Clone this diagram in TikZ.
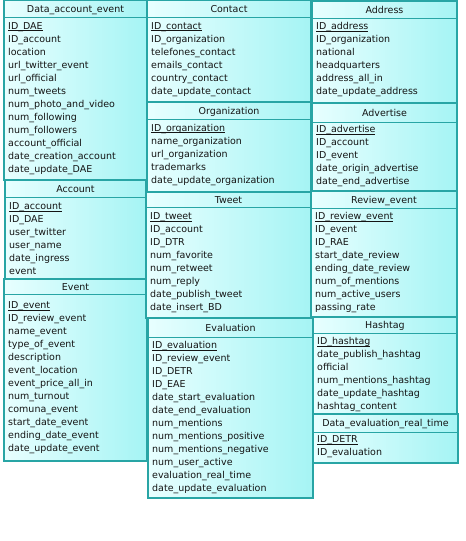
\documentclass[tikz,border=0pt]{standalone}
\usepackage{fontspec}
\setmainfont{DejaVu Sans}
\usetikzlibrary{fit}
\definecolor{entborder}{RGB}{40,165,165}
\definecolor{entleft}{RGB}{232,255,255}
\definecolor{entright}{RGB}{165,244,244}
\definecolor{enttext}{RGB}{20,20,20}
\tikzset{
  entity/.style={draw=entborder, line width=1.4pt, left color=entleft, right color=entright, inner sep=0pt, outer sep=0pt},
  entline/.style={draw=entborder, line width=1pt},
  enttitle/.style={font=\fontsize{9.5}{11}\selectfont, inner sep=0pt, text=enttext, text height=7pt, text depth=0pt},
  entrow/.style={font=\fontsize{9.5}{11}\selectfont, inner sep=0pt, anchor=west, text=enttext, text height=7pt, text depth=0pt}
}
\newcommand\entbox[9]{%
  \node[entity, fit={(#2,#3)(#4,#5)}] (#1) {};
  \draw[entline] (#2,#6) -- (#4,#6);
  \node[enttitle] (#1-title) at ({(#2+#4)/2},{(#3+#6)/2}) {#8};
  \foreach \r [count=\i] in {#9}{
    \node[entrow] (#1-\i) at ({#2+4},{#7+(\i-1)*13}) {\ifnum\i=1 \underline{\smash{\r}}\else\r\fi};
  }
}
\begin{document}
\begin{tikzpicture}[x=1pt,y=-1pt]
\useasboundingbox[fill=white] (0,0) rectangle (466,541);
\entbox{dae}{4}{0.7}{147}{180}{17}{25.7}{Data\_account\_event}{ID\_DAE, ID\_account, location, url\_twitter\_event, url\_official, num\_tweets, num\_photo\_and\_video, num\_following, num\_followers, account\_official, date\_creation\_account, date\_update\_DAE}
\entbox{account}{5}{180}{146}{279}{197}{206}{Account}{ID\_account, ID\_DAE, user\_twitter, user\_name, date\_ingress, event}
\entbox{event}{4}{279}{147}{461}{294}{305}{Event}{ID\_event, ID\_review\_event, name\_event, type\_of\_event, description, event\_location, event\_price\_all\_in, num\_turnout, comuna\_event, start\_date\_event, ending\_date\_event, date\_update\_event}
\entbox{contact}{147}{0.7}{311}{102}{17}{25.7}{Contact}{ID\_contact, ID\_organization, telefones\_contact, emails\_contact, country\_contact, date\_update\_contact}
\entbox{org}{147}{102}{311}{192}{119}{127.7}{Organization}{ID\_organization, name\_organization, url\_organization, trademarks, date\_update\_organization}
\entbox{tweet}{146}{192}{311}{318}{207}{216}{Tweet}{ID\_tweet, ID\_account, ID\_DTR, num\_favorite, num\_retweet, num\_reply, date\_publish\_tweet, date\_insert\_BD}
\entbox{eval}{148}{318}{313}{498}{337}{345}{Evaluation}{ID\_evaluation, ID\_review\_event, ID\_DETR, ID\_EAE, date\_start\_evaluation, date\_end\_evaluation, num\_mentions, num\_mentions\_positive, num\_mentions\_negative, num\_user\_active, evaluation\_real\_time, date\_update\_evaluation}
\entbox{address}{312}{1}{457}{103}{18}{26}{Address}{ID\_address, ID\_organization, national, headquarters, address\_all\_in, date\_update\_address}
\entbox{advertise}{312}{103}{457}{192}{122}{129.3}{Advertise}{ID\_advertise, ID\_account, ID\_event, date\_origin\_advertise, date\_end\_advertise}
\entbox{review}{311}{191}{457}{318}{208}{216}{Review\_event}{ID\_review\_event, ID\_event, ID\_RAE, start\_date\_review, ending\_date\_review, num\_of\_mentions, num\_active\_users, passing\_rate}
\entbox{hashtag}{313}{317}{457}{414}{333}{341}{Hashtag}{ID\_hashtag, date\_publish\_hashtag, official, num\_mentions\_hashtag, date\_update\_hashtag, hashtag\_content}
\entbox{dert}{313}{414}{458}{463}{432}{439.3}{Data\_evaluation\_real\_time}{ID\_DETR, ID\_evaluation}
\end{tikzpicture}
\end{document}
